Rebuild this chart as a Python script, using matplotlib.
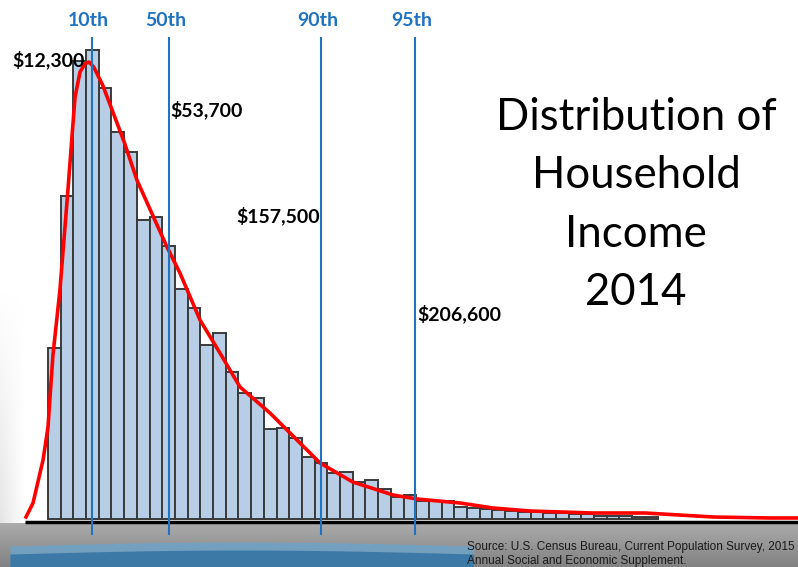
import numpy as np
import matplotlib.pyplot as plt

# bar heights for each income bin (left to right)
bar_heights = [171, 323, 458, 469, 431, 387, 367, 299, 302, 273,
               230, 211, 174, 186, 147, 126, 121, 90, 91, 81,
               62, 56, 46, 47, 37, 39, 30, 22, 24, 18,
               18, 18, 12, 11, 10, 9, 8, 7, 7, 6,
               6, 5, 5, 3, 3, 3, 2, 2]

# smoothed density curve (bin units, height)
curve_x = [-1.73, -1.18, -0.39, 0.0, 0.16, 0.39, 0.94, 1.57, 1.97, 2.13, 2.52,
           2.9, 3.23, 3.6, 4.3, 4.96, 6.0, 7.0, 8.2, 9.37, 10.39, 11.97,
           13.54, 15.12, 17.48, 18.82, 21.42, 24.0, 27.17, 29.06, 32.44,
           35.04, 37.95, 42.9, 47.0, 52.4, 56.85, 59.06]
curve_y = [2, 16, 59, 92, 122, 164, 229, 329, 396, 422, 447,
           455, 457, 452, 434, 412, 377, 339, 305, 272, 246, 199,
           166, 132, 106, 89, 56, 37, 24, 20, 16,
           11, 8, 6, 6, 2, 1, 1]

pct_names = ["10th", "50th", "90th", "95th"]
pct_pos = [3.43, 9.53, 21.5, 28.9]
pct_values = ["$12,300", "$53,700", "$157,500", "$206,600"]

fig = plt.figure(figsize=(7.98, 5.67), dpi=100)
ax = fig.add_axes([0, 0, 1, 1])
ax.set_xlim(-3.78, 59.06)
ax.set_ylim(-48, 519)
ax.axis("off")

# background decoration: gray band at the bottom, blue wave, faint left strip
grad = np.linspace(0, 1, 64).reshape(-1, 1)
ax.imshow(grad, extent=(-3.78, 59.06, -48, -4), cmap="Greys", vmin=-3, vmax=4,
          aspect="auto", zorder=0)
# left strip fades out upward and to the right
gy, gx = np.mgrid[0:64, 0:16]
strip = np.zeros((64, 16, 4))
strip[..., :3] = 0.8
strip[..., 3] = (gy / 63.0) * (1 - gx / 15.0) * 0.5
ax.imshow(strip, extent=(-3.78, -1.8, -4, 230), aspect="auto", zorder=0)
wx = np.linspace(-3.0, 33.5, 50)
wave_top = -27 + 4 * np.sin((wx + 3) / 36.5 * np.pi)
ax.fill_between(wx, -48, wave_top, color="#6fa3c8", alpha=0.85, zorder=1, lw=0)
ax.fill_between(wx, -48, wave_top - 8, color="#2b6d9e", alpha=0.75, zorder=1, lw=0)

# histogram
x = np.arange(len(bar_heights)) + 0.5
ax.bar(x, bar_heights, width=1.0, color="#b8cee6", edgecolor="#3a3a3a",
       linewidth=1.4, zorder=2)

# baseline
ax.plot([-1.81, 59.06], [-3, -3], color="black", lw=2.5, zorder=3, solid_capstyle="butt")

# density curve
ax.plot(curve_x, curve_y, color="#ff0000", lw=2.6, zorder=4, solid_joinstyle="round")

# percentile lines + labels
ax.vlines(pct_pos, -16, 482, color="#1f73c0", lw=1.5, zorder=5)
for name, p in zip(pct_names, pct_pos):
    ax.text(p - 0.25, 498, name, color="#1f73c0", fontsize=14, fontweight="bold",
            family="Lato", ha="center", va="center", zorder=6)

val_kw = dict(color="black", fontsize=14, fontweight="bold", family="Lato",
              va="center", zorder=6)
ax.text(-2.83, 459, pct_values[0], ha="left", **val_kw)
ax.text(9.6, 409, pct_values[1], ha="left", **val_kw)
ax.text(21.4, 303, pct_values[2], ha="right", **val_kw)
ax.text(29.05, 205, pct_values[3], ha="left", **val_kw)

ax.text(46.3, 314, "Distribution of\nHousehold\nIncome\n2014", fontsize=31.5,
        family="Lato", ha="center", va="center", linespacing=1.52, color="black", zorder=6)

ax.text(33.0, -35, "Source: U.S. Census Bureau, Current Population Survey, 2015\n"
        "Annual Social and Economic Supplement.", fontsize=8.5, family="Liberation Sans",
        ha="left", va="center", linespacing=1.3, color="#1a1a1a", zorder=6)

fig.savefig("out.png", dpi=100)
